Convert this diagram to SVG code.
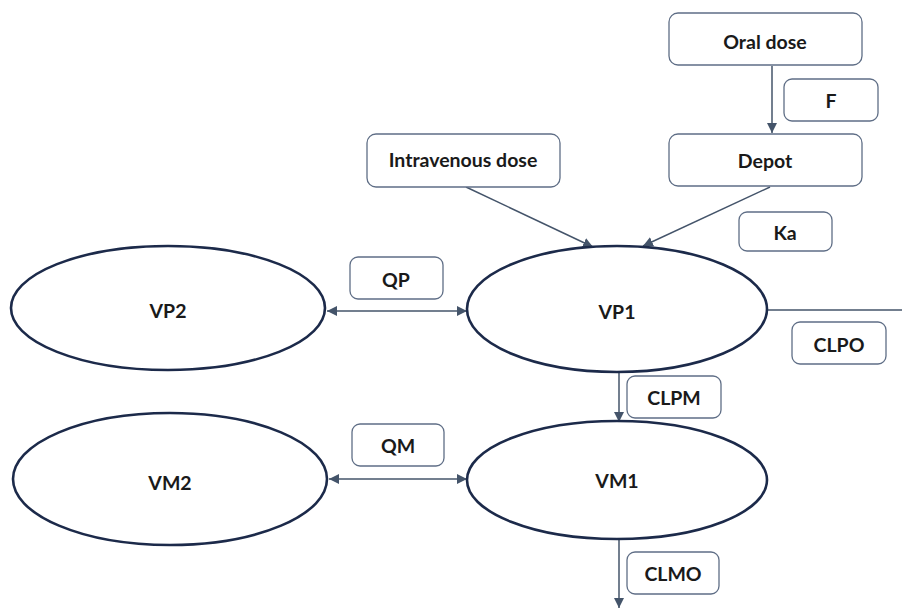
<svg xmlns="http://www.w3.org/2000/svg" width="902" height="608" viewBox="0 0 902 608">
<style>
.box{fill:#fff;stroke:#5f6e86;stroke-width:1.3}
.ell{fill:#fff;stroke:#1c2a4a;stroke-width:2.6}
.t{font-family:Lato,"Open Sans","Liberation Sans",sans-serif;font-weight:bold;font-size:19.5px;fill:#1a1a1a;text-anchor:middle;dominant-baseline:central}
.c{stroke:#44546a;stroke-width:1.5;fill:none}
</style>
<defs>
<marker id="ah" viewBox="0 0 10 10" refX="10" refY="5" markerWidth="10" markerHeight="10" markerUnits="userSpaceOnUse" orient="auto-start-reverse">
<path d="M0,0 L10,5 L0,10 z" fill="#44546a"/>
</marker>
</defs>
<rect width="902" height="608" fill="#fff"/>
<g id="connectors">
<line class="c" x1="772" y1="66" x2="772" y2="133" marker-end="url(#ah)"/>
<line class="c" x1="466" y1="187" x2="593" y2="247" marker-end="url(#ah)"/>
<line class="c" x1="770" y1="187" x2="643" y2="246" marker-end="url(#ah)"/>
<line class="c" x1="327" y1="311" x2="467" y2="311" marker-start="url(#ah)" marker-end="url(#ah)"/>
<line class="c" x1="768" y1="310" x2="902" y2="310"/>
<line class="c" x1="619" y1="372" x2="619" y2="422" marker-end="url(#ah)"/>
<line class="c" x1="329" y1="479" x2="467" y2="479" marker-start="url(#ah)" marker-end="url(#ah)"/>
<line class="c" x1="619" y1="539" x2="619" y2="608" marker-end="url(#ah)"/>
</g>
<g id="oral-dose"><rect class="box" x="669" y="13" width="193" height="52" rx="9"/><text class="t" x="765" y="41">Oral dose</text></g>
<g id="label-F"><rect class="box" x="784" y="79" width="94" height="42" rx="8"/><text class="t" x="831" y="100">F</text></g>
<g id="depot"><rect class="box" x="669" y="134" width="193" height="52" rx="9"/><text class="t" x="765" y="160">Depot</text></g>
<g id="label-Ka"><rect class="box" x="739" y="212" width="93" height="39" rx="8"/><text class="t" x="785" y="232">Ka</text></g>
<g id="iv-dose"><rect class="box" x="367" y="134" width="193" height="53" rx="9"/><text class="t" x="463" y="159">Intravenous dose</text></g>
<g id="VP2"><ellipse class="ell" cx="168" cy="308" rx="157" ry="62"/><text class="t" x="168" y="310">VP2</text></g>
<g id="label-QP"><rect class="box" x="350" y="257" width="93" height="42" rx="8"/><text class="t" x="396" y="279">QP</text></g>
<g id="VP1"><ellipse class="ell" cx="617" cy="309" rx="150" ry="63"/><text class="t" x="617" y="311">VP1</text></g>
<g id="label-CLPO"><rect class="box" x="792" y="322" width="94" height="42" rx="8"/><text class="t" x="839" y="344">CLPO</text></g>
<g id="label-CLPM"><rect class="box" x="627" y="376" width="94" height="42" rx="8"/><text class="t" x="674" y="397">CLPM</text></g>
<g id="VM2"><ellipse class="ell" cx="170" cy="479" rx="157" ry="66"/><text class="t" x="170" y="482">VM2</text></g>
<g id="label-QM"><rect class="box" x="352" y="424" width="92" height="42" rx="8"/><text class="t" x="398" y="445">QM</text></g>
<g id="VM1"><ellipse class="ell" cx="617" cy="480" rx="150" ry="59"/><text class="t" x="617" y="480">VM1</text></g>
<g id="label-CLMO"><rect class="box" x="627" y="552" width="92" height="42" rx="8"/><text class="t" x="673" y="573">CLMO</text></g>
</svg>
